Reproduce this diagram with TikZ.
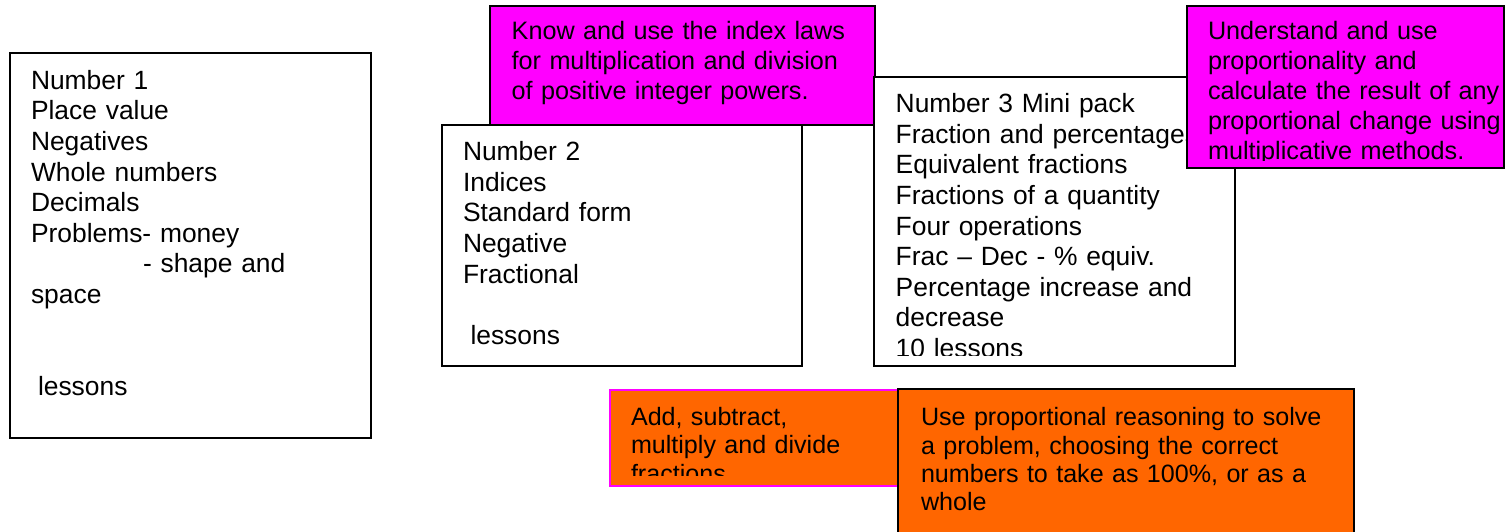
\documentclass[tikz,border=0pt]{standalone}
\usepackage{fontspec}
\setmainfont{Liberation Sans}
\definecolor{mag}{HTML}{FF00FF}
\definecolor{org}{HTML}{FF6600}
\tikzset{
  boxbase/.style={anchor=north west, inner sep=0pt, outer sep=0pt, line width=2pt},
  plainbox/.style={boxbase, draw=black, fill=white},
  magbox/.style={boxbase, draw=black, fill=mag},
  orgbox/.style={boxbase, draw=black, fill=org},
  orgmagbox/.style={boxbase, draw=mag, line width=1.6pt, fill=org},
  txt/.style={anchor=base west, inner sep=0pt, outer sep=0pt, text width=600pt, align=left,
              font=\fontsize{26.4}{30.6}\selectfont},
  txtm/.style={txt, font=\fontsize{25.2}{30.1}\selectfont},
  otxt/.style={txt, font=\fontsize{25.1}{28.3}\selectfont}
}
\begin{document}
\begin{tikzpicture}[x=1pt, y=-1pt]
\useasboundingbox (0,0) rectangle (1506,532);

% Number 1
\node[plainbox, minimum width=361pt, minimum height=385pt] (b1) at (10,53) {};
\node[txt] (t1) at (31,89.3) {Number 1\\Place value\\Negatives\\Whole numbers\\Decimals\\Problems- money\\\hspace*{112pt}- shape and\\space\\\mbox{}\\\mbox{}\\\hspace*{7pt}lessons};

% Number 2
\node[plainbox, minimum width=360pt, minimum height=241pt] (b2) at (442,125) {};
\node[txt] (t2) at (463,160.7) {Number 2\\Indices\\Standard form\\Negative\\Fractional\\\mbox{}\\\hspace*{7.5pt}lessons};

% Magenta 1
\node[magbox, minimum width=385pt, minimum height=119pt] (m1) at (490,6) {};
\node[txtm] (tm1) at (511.7,39.5) {Know and use the index laws\\for multiplication and division\\of positive integer powers.};

% Number 3
\node[plainbox, minimum width=361pt, minimum height=289pt] (b3) at (874,77) {};
\begin{scope}
  \clip (874,77) rectangle (1235,355);
  \node[txt] (t3) at (895.7,112.7) {Number 3 Mini pack\\Fraction and percentages\\Equivalent fractions\\Fractions of a quantity\\Four operations\\Frac -- Dec - \% equiv.\\Percentage increase and\\decrease\\10 lessons};
\end{scope}

% Magenta 2
\node[magbox, minimum width=317pt, minimum height=162pt] (m2) at (1187,6) {};
\begin{scope}
  \clip (1187,6) rectangle (1504,160.5);
  \node[txtm] (tm2) at (1208,39.3) {Understand and use\\proportionality and\\calculate the result of any\\proportional change using\\multiplicative methods.};
\end{scope}

% Orange 1
\node[orgmagbox, minimum width=295pt, minimum height=96pt] (o1) at (610,390) {};
\begin{scope}
  \clip (610,390) rectangle (898,475);
  \node[otxt] (to1) at (631,425.5) {Add, subtract,\\multiply and divide\\fractions};
\end{scope}

% Orange 2
\node[orgbox, minimum width=456pt, minimum height=160pt] (o2) at (898,389) {};
\node[otxt] (to2) at (921,425.7) {Use proportional reasoning to solve\\a problem, choosing the correct\\numbers to take as 100\%, or as a\\whole};
\end{tikzpicture}
\end{document}
